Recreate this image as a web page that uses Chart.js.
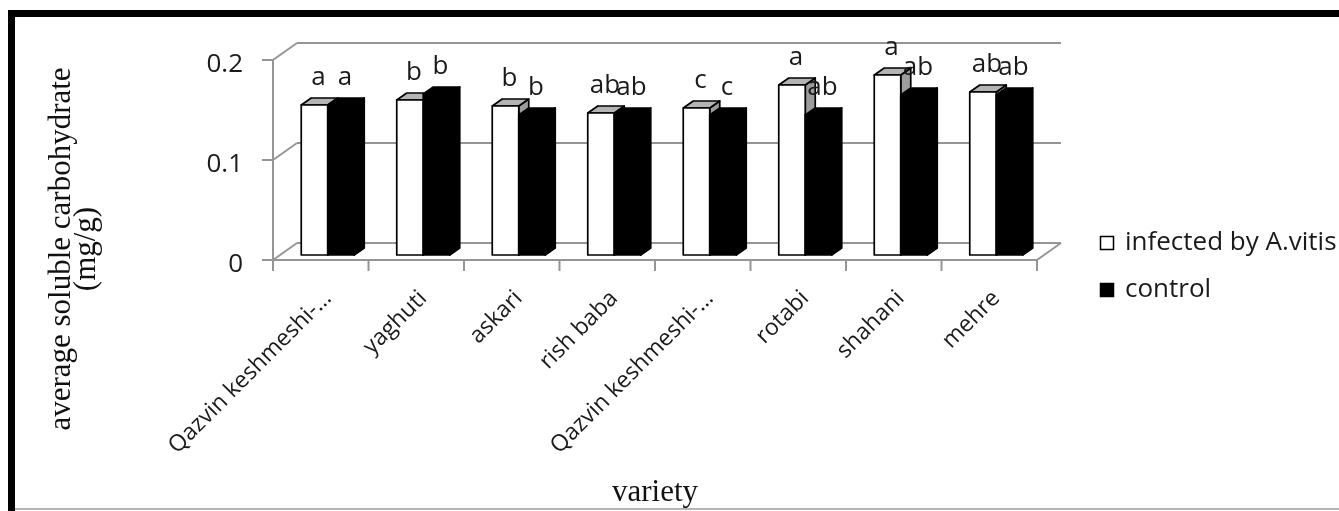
<!DOCTYPE html>
<html>
<head>
<meta charset="utf-8">
<script src="https://cdn.jsdelivr.net/npm/chart.js@4.4.1/dist/chart.umd.min.js"></script>
<style>
  html, body { margin: 0; padding: 0; background: #fff; }
  canvas { display: block; }
</style>
</head>
<body>
<canvas id="chart" width="1339" height="511"></canvas>
<script>
// Grape varieties and mean soluble carbohydrate (mg/g)
const varieties = ['Qazvin keshmeshi-…', 'yaghuti', 'askari', 'rish baba', 'Qazvin keshmeshi-…', 'rotabi', 'shahani', 'mehre'];
const infected = [0.150, 0.155, 0.149, 0.142, 0.147, 0.170, 0.180, 0.163];
const control = [0.150, 0.161, 0.140, 0.140, 0.140, 0.140, 0.160, 0.160];
// Duncan grouping letters shown above each bar
const infectedLetters = ['a', 'b', 'b', 'ab', 'c', 'a', 'a', 'ab'];
const controlLetters = ['a', 'b', 'b', 'ab', 'c', 'ab', 'ab', 'ab'];
const yTicks = [0, 0.1, 0.2];
const seriesNames = ['infected by A.vitis', 'control'];

const SANS = '"Open Sans", "Liberation Sans", sans-serif';
const SERIF = '"Liberation Serif", "DejaVu Serif", serif';

// pseudo-3D geometry (pixel offsets relative to the plane the bars stand in)
const DEPTH = { x: 10, y: -7 };   // thickness of each bar
const FRONT = { x: -7, y: 5 };    // front edge of the floor / axis
const BACK = { x: 17, y: -12 };   // back wall
const LINE = '#959595';

function seg(ctx, x1, y1, x2, y2) {
  ctx.beginPath();
  ctx.moveTo(x1, y1);
  ctx.lineTo(x2, y2);
  ctx.stroke();
}

function poly(ctx, pts, fill) {
  ctx.beginPath();
  ctx.moveTo(pts[0][0], pts[0][1]);
  for (let i = 1; i < pts.length; i++) ctx.lineTo(pts[i][0], pts[i][1]);
  ctx.closePath();
  ctx.fillStyle = fill;
  ctx.fill();
  ctx.stroke();
}

const walls = {
  id: 'walls',
  beforeDatasetsDraw(chart) {
    const { ctx, chartArea: { left, right, bottom }, scales: { x, y } } = chart;
    ctx.save();
    ctx.strokeStyle = LINE;
    ctx.lineWidth = 2;
    yTicks.forEach(v => {
      const py = y.getPixelForValue(v);
      seg(ctx, left + FRONT.x, py + FRONT.y, left + BACK.x, py + BACK.y);
      seg(ctx, left + BACK.x, py + BACK.y, right + BACK.x, py + BACK.y);
      seg(ctx, left + FRONT.x - 11, py + FRONT.y, left + FRONT.x, py + FRONT.y);
    });
    const yTop = y.getPixelForValue(yTicks[yTicks.length - 1]);
    seg(ctx, left + FRONT.x, yTop + FRONT.y, left + FRONT.x, bottom + FRONT.y);
    seg(ctx, left + FRONT.x, bottom + FRONT.y, right + FRONT.x, bottom + FRONT.y);
    seg(ctx, right + FRONT.x, bottom + FRONT.y, right + BACK.x, bottom + BACK.y);
    const step = x.getPixelForValue(1) - x.getPixelForValue(0);
    for (let i = 0; i <= varieties.length; i++) {
      const px = x.getPixelForValue(0) - step / 2 + i * step + FRONT.x;
      seg(ctx, px, bottom + FRONT.y, px, bottom + FRONT.y + 11);
    }
    ctx.restore();
  }
};

const bars3d = {
  id: 'bars3d',
  afterDatasetsDraw(chart) {
    const { ctx } = chart;
    const letters = [infectedLetters, controlLetters];
    const faces = [
      { front: '#ffffff', top: '#b4b4b4', side: '#9c9c9c' },
      { front: '#000000', top: '#000000', side: '#000000' }
    ];
    ctx.save();
    ctx.lineJoin = 'round';
    for (let i = 0; i < varieties.length; i++) {
      for (let d = 0; d < 2; d++) {
        const el = chart.getDatasetMeta(d).data[i];
        const { x: cx, y: yt, base, width } = el.getProps(['x', 'y', 'base', 'width'], true);
        const x0 = cx - width / 2, x1 = cx + width / 2;
        ctx.strokeStyle = '#000';
        ctx.lineWidth = 1.7;
        poly(ctx, [[x1, yt], [x1 + DEPTH.x, yt + DEPTH.y], [x1 + DEPTH.x, base + DEPTH.y], [x1, base]], faces[d].side);
        poly(ctx, [[x0, yt], [x0 + DEPTH.x, yt + DEPTH.y], [x1 + DEPTH.x, yt + DEPTH.y], [x1, yt]], faces[d].top);
        poly(ctx, [[x0, yt], [x1, yt], [x1, base], [x0, base]], faces[d].front);
      }
    }
    // grouping letters
    ctx.font = '26px ' + SANS;
    ctx.fillStyle = '#1a1a1a';
    ctx.textAlign = 'center';
    ctx.textBaseline = 'alphabetic';
    for (let d = 0; d < 2; d++) {
      chart.getDatasetMeta(d).data.forEach((el, i) => {
        const { x: cx, y: yt } = el.getProps(['x', 'y'], true);
        ctx.fillText(letters[d][i], cx + 4, yt - 20);
      });
    }
    ctx.restore();
  }
};

const decorations = {
  id: 'decorations',
  afterDraw(chart) {
    const { ctx } = chart;
    ctx.save();
    // axis titles
    ctx.fillStyle = '#111';
    ctx.font = '31px ' + SERIF;
    ctx.textAlign = 'center';
    ctx.textBaseline = 'middle';
    ctx.save();
    ctx.translate(62, 249);
    ctx.rotate(-Math.PI / 2);
    ctx.fillText('average soluble carbohydrate', 0, 0);
    ctx.fillText('(mg/g)', 0, 25);
    ctx.restore();
    ctx.textBaseline = 'alphabetic';
    ctx.fillText('variety', 655, 501);

    // legend
    const colors = chart.data.datasets.map(ds => ds.backgroundColor);
    const rows = [250, 297];
    ctx.font = '26px ' + SANS;
    ctx.textAlign = 'left';
    chart.data.datasets.forEach((ds, k) => {
      const by = rows[k];
      ctx.fillStyle = colors[k];
      ctx.fillRect(1100, by - 14, 14, 14);
      ctx.strokeStyle = '#000';
      ctx.lineWidth = 1.5;
      ctx.strokeRect(1100.5, by - 13.5, 13, 13);
      ctx.fillStyle = '#1a1a1a';
      ctx.fillText(ds.label, 1125, by);
    });

    // frame
    ctx.strokeStyle = '#000';
    ctx.lineWidth = 7;
    ctx.strokeRect(11.5, 13.5, 1400, 600);
    ctx.strokeStyle = '#b5b5b5';
    ctx.lineWidth = 2;
    seg(ctx, 15, 509, 1339, 509);
    ctx.restore();
  }
};

new Chart(document.getElementById('chart'), {
  type: 'bar',
  data: {
    labels: varieties,
    datasets: [
      { label: seriesNames[0], data: infected, backgroundColor: '#ffffff', borderColor: '#000', borderWidth: 1.5 },
      { label: seriesNames[1], data: control, backgroundColor: '#000000', borderColor: '#000', borderWidth: 1.5 }
    ]
  },
  options: {
    responsive: false,
    animation: false,
    layout: { padding: { top: 55, right: 295, bottom: 0, left: 0 } },
    datasets: { bar: { categoryPercentage: 0.555, barPercentage: 1.0 } },
    plugins: { legend: { display: false }, tooltip: { enabled: false } },
    scales: {
      x: {
        grid: { display: false, drawTicks: false },
        border: { display: false },
        ticks: {
          autoSkip: false, maxRotation: 45, minRotation: 45, padding: 30,
          color: '#1a1a1a', font: { family: SANS, size: 23 }
        },
        afterFit(scale) { scale.height = 256; }
      },
      y: {
        min: 0, max: 0.2,
        grid: { display: false, drawTicks: false },
        border: { display: false },
        ticks: {
          stepSize: 0.1, padding: 37, labelOffset: 10,
          color: '#1a1a1a', font: { family: SANS, size: 26 }
        },
        afterFit(scale) { scale.width = 280; }
      }
    }
  },
  plugins: [walls, bars3d, decorations]
});
</script>
</body>
</html>
